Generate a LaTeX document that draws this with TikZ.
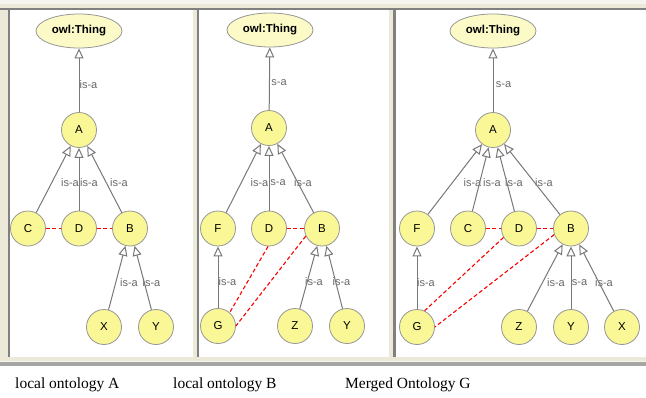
\documentclass[tikz,border=0pt]{standalone}
\usepackage{fontspec}
\setmainfont{Liberation Serif}
\newfontfamily\lsans{Liberation Sans}
\usetikzlibrary{arrows.meta,shapes.geometric}
\definecolor{nodefill}{RGB}{250,247,150}
\definecolor{topfill}{RGB}{252,251,200}
\definecolor{nodeborder}{RGB}{150,150,150}
\definecolor{edgegray}{RGB}{120,120,120}
\definecolor{labelgray}{RGB}{105,105,105}
\definecolor{beige}{RGB}{236,233,216}
\definecolor{pale}{RGB}{245,245,240}
\definecolor{frame}{RGB}{128,128,128}
\definecolor{samered}{RGB}{250,0,0}
\begin{document}
\begin{tikzpicture}[x=1pt,y=-1pt,
 cls/.style={circle, draw=nodeborder, fill=nodefill, line width=0.8pt, minimum size=35pt, inner sep=0pt, font=\lsans\fontsize{11.5}{12}\selectfont},
 topc/.style={ellipse, draw=nodeborder, fill=topfill, line width=0.8pt, minimum width=86pt, minimum height=34pt, inner sep=0pt, font=\lsans\bfseries\fontsize{11.5}{12}\selectfont},
 isa/.style={draw=edgegray, line width=1pt, -{Triangle[fill=white,length=10pt,width=9pt]}},
 lbl/.style={text=labelgray, font=\lsans\fontsize{11}{11}\selectfont, inner sep=0pt},
 same/.style={draw=samered, line width=1.1pt, dash pattern=on 4pt off 2.5pt},
 capt/.style={font=\fontsize{15.5}{16}\selectfont, anchor=base west, inner sep=0pt}]
\useasboundingbox (0,0) rectangle (646,397);
% background and frames
\fill[white] (0,0) rectangle (646,397);
\fill[pale] (0,0) rectangle (646,366);
\fill[beige] (0,4) rectangle (646,361);
\fill[frame] (0,7.5) rectangle (646,10);
\fill[frame!70!white] (0,362) rectangle (646,365.5);
% panels
\fill[frame] (8,10) rectangle (193,357);
\fill[white] (10,10) rectangle (193,357);
\fill[frame] (197,10) rectangle (389,357);
\fill[white] (199,10) rectangle (389,357);
\fill[frame] (393,10) rectangle (646,357);
\fill[white] (396,10) rectangle (646,357);

% ---------------- Panel 1 ----------------
\node[topc] (T1) at (79,31) {owl:Thing};
\node[cls] (A1) at (79,130) {A};
\node[cls] (C1) at (28,228.5) {C};
\node[cls] (D1) at (79,228.5) {D};
\node[cls] (B1) at (130,228.5) {B};
\node[cls] (X1) at (104,327) {X};
\node[cls] (Y1) at (156,327) {Y};
\node[lbl] (l1a) at (88.5,85) {is-a};
\node[lbl] (l1b) at (70,183) {is-a};
\node[lbl] (l1c) at (89,183) {is-a};
\node[lbl] (l1d) at (119,183) {is-a};
\node[lbl] (l1e) at (129,283) {is-a};
\node[lbl] (l1f) at (151.5,283) {is-a};
\draw[isa] (A1) -- (T1);
\draw[isa] (C1) -- (A1);
\draw[isa] (D1) -- (A1);
\draw[isa] (B1) -- (A1);
\draw[isa] (X1) -- (B1);
\draw[isa] (Y1) -- (B1);
\draw[same] (C1) -- (D1);
\draw[same] (D1) -- (B1);

% ---------------- Panel 2 ----------------
\node[topc] (T2) at (270,30) {owl:Thing};
\node[cls] (A2) at (269,128) {A};
\node[cls] (F2) at (218,228.5) {F};
\node[cls] (D2) at (269,228.5) {D};
\node[cls] (B2) at (322,228.5) {B};
\node[cls] (G2) at (218,326) {G};
\node[cls] (Z2) at (295,326) {Z};
\node[cls] (Y2) at (347,326) {Y};
\node[lbl] (l2a) at (279,83) {s-a};
\node[lbl] (l2b) at (259.5,183) {is-a};
\node[lbl] (l2c) at (278,183) {s-a};
\node[lbl] (l2d) at (303,183) {is-a};
\node[lbl] (l2e) at (227.5,282) {is-a};
\node[lbl] (l2f) at (314,282) {is-a};
\node[lbl] (l2g) at (341.5,282) {is-a};
\draw[isa] (A2) -- (T2);
\draw[isa] (F2) -- (A2);
\draw[isa] (D2) -- (A2);
\draw[isa] (B2) -- (A2);
\draw[isa] (G2) -- (F2);
\draw[isa] (Z2) -- (B2);
\draw[isa] (Y2) -- (B2);
\draw[same] (D2) -- (B2);
\draw[same] (D2.-93) -- (G2.49);
\draw[same] (B2.205) -- (G2.0);

% ---------------- Panel 3 ----------------
\node[topc] (T3) at (493,31) {owl:Thing};
\node[cls] (A3) at (493,130) {A};
\node[cls] (F3) at (417,228.5) {F};
\node[cls] (C3) at (468,228.5) {C};
\node[cls] (D3) at (519,228.5) {D};
\node[cls] (B3) at (571,228.5) {B};
\node[cls] (G3) at (417,327) {G};
\node[cls] (Z3) at (519,327) {Z};
\node[cls] (Y3) at (571,327) {Y};
\node[cls] (X3) at (622,327) {X};
\node[lbl] (l3a) at (503.5,85) {s-a};
\node[lbl] (l3b) at (472.5,183) {is-a};
\node[lbl] (l3c) at (492,183) {is-a};
\node[lbl] (l3d) at (514,183) {is-a};
\node[lbl] (l3e) at (544,183) {is-a};
\node[lbl] (l3f) at (426,283) {is-a};
\node[lbl] (l3g) at (556,283) {is-a};
\node[lbl] (l3h) at (579.5,283) {s-a};
\node[lbl] (l3i) at (604,283) {is-a};
\draw[isa] (A3) -- (T3);
\draw[isa] (F3) -- (A3);
\draw[isa] (C3) -- (A3);
\draw[isa] (D3) -- (A3);
\draw[isa] (B3) -- (A3);
\draw[isa] (G3) -- (F3);
\draw[isa] (Z3) -- (B3);
\draw[isa] (Y3) -- (B3);
\draw[isa] (X3) -- (B3);
\draw[same] (C3) -- (D3);
\draw[same] (D3) -- (B3);
\draw[same] (D3.210) -- (G3.65);
\draw[same] (B3.200) -- (G3.0);

% captions
\node[capt] (cA) at (15,388) {local ontology A};
\node[capt] (cB) at (173,388) {local ontology B};
\node[capt] (cG) at (345,388) {Merged Ontology G};
\end{tikzpicture}
\end{document}
